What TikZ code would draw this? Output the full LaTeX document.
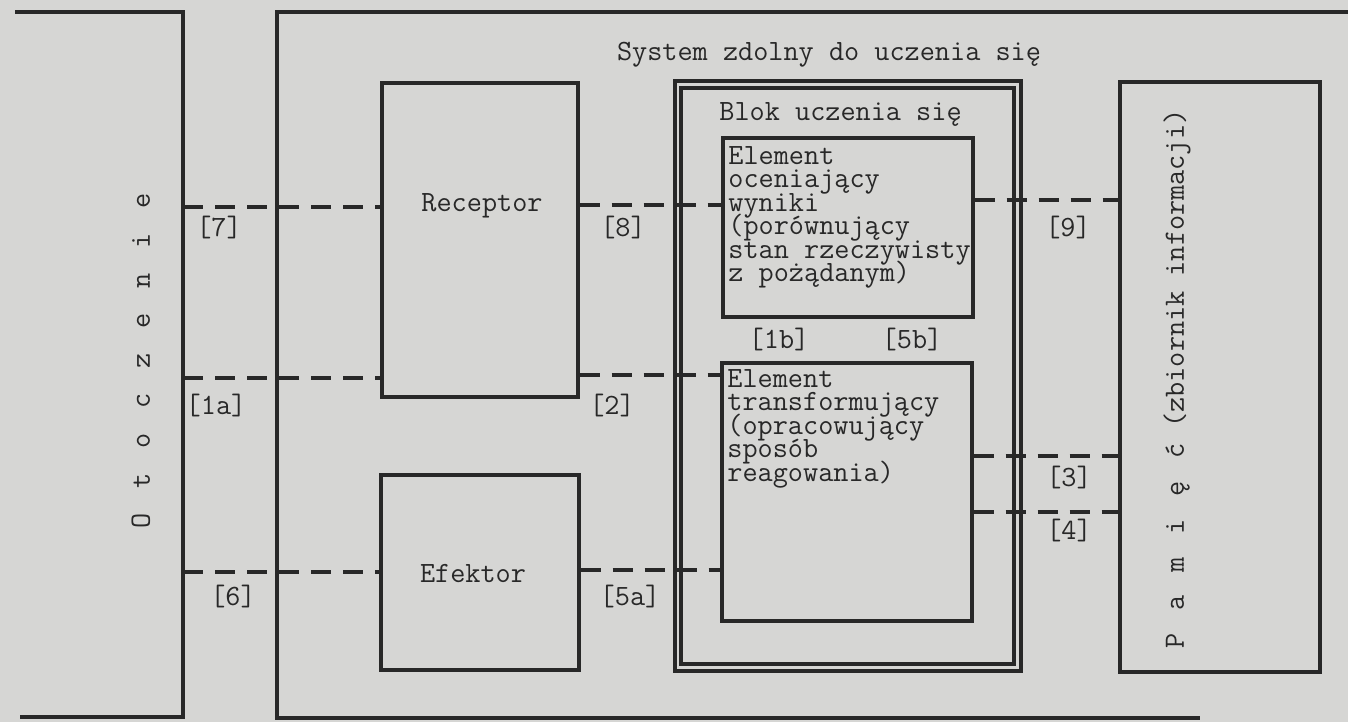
\documentclass[tikz,border=0pt]{standalone}
\usepackage{fontspec}
\usetikzlibrary{calc}
\definecolor{paper}{RGB}{214,214,212}
\definecolor{ink}{RGB}{40,40,40}
\newcommand\ltrbox[2]{\makebox[#1]{#2}}
\newcommand\twfont{\ttfamily\fontsize{14.7}{11.75}\selectfont\addfontfeature{FakeBold=1.5}}
\begin{document}
\lineskiplimit=-20pt
\lineskip=0pt
\begin{tikzpicture}[x=0.5pt,y=-0.5pt,
  frame/.style={draw=ink, line width=1.6pt},
  box/.style={draw=ink, line width=1.6pt, inner sep=0pt, rectangle},
  txt/.style={font=\twfont, text=ink, inner sep=0pt},
  conn/.style={draw=ink, line width=1.6pt, dash pattern=on 10pt off 6pt},
  lbl/.style={txt}]
\fill[paper] (0,0) rectangle (1348,722);
\useasboundingbox (0,0) rectangle (1348,722);

% Otoczenie (open on the left)
\draw[frame] (15,12) -- (183,12) -- (183,717) -- (20,717);
\coordinate (otoR) at (183,0);
\node[txt, rotate=90] (oto) at (141,361) {\ltrbox{20pt}{O}\ltrbox{20pt}{t}\ltrbox{20pt}{o}\ltrbox{20pt}{c}\ltrbox{20pt}{z}\ltrbox{20pt}{e}\ltrbox{20pt}{n}\ltrbox{20pt}{i}\ltrbox{20pt}{e}};

% System zdolny do uczenia sie
\draw[frame] (1348,12) -- (277,12) -- (277,718) -- (1200,718);
\node[txt] (systitle) at (829,55) {System zdolny do uczenia się};

% Receptor, Efektor
\node[box, minimum width=98pt, minimum height=157pt] (receptor) at (480,240) {};
\node[txt] (receptortxt) at (482,206) {Receptor};
\node[box, minimum width=99pt, minimum height=97.5pt] (efektor) at (480,572.5) {};
\node[txt] (efektortxt) at (473,574) {Efektor};

% Blok uczenia sie (double frame)
\node[box, minimum width=173pt, minimum height=295pt] (blok) at (848,376) {};
\node[box, minimum width=166.5pt, minimum height=288pt] (blokin) at (847.5,376) {};
\node[txt, anchor=west] (bloktxt) at (719,115) {Blok uczenia się};

\node[box, minimum width=125pt, minimum height=89.5pt] (eval) at (848,227.5) {};
\node[txt, anchor=north west, align=left] (evaltxt) at (728,146)
  {Element\\oceniający\\wyniki\\(porównujący\\stan rzeczywisty\\z pożądanym)};
\node[box, minimum width=125pt, minimum height=129pt] (trans) at (847,492) {};
\node[txt, anchor=north west, align=left] (transtxt) at (727,369)
  {Element\\transformujący\\(opracowujący\\sposób\\reagowania)};
\node[lbl] (l1b) at (779,340) {[1b]};
\node[lbl] (l5b) at (912,340) {[5b]};

% Pamiec
\node[box, minimum width=100pt, minimum height=295pt] (pam) at (1220,377) {};
\node[txt, rotate=90, anchor=west] (pamtxt) at (1177,660)
  {\ltrbox{19pt}{P}\ltrbox{19pt}{a}\ltrbox{19pt}{m}\ltrbox{19pt}{i}\ltrbox{19pt}{ę}\ltrbox{19pt}{ć}\hspace{2pt}(zbiornik informacji)};

% connectors
\coordinate (y7) at (0,207);
\coordinate (y8) at (0,205);
\coordinate (y9) at (0,200);
\coordinate (y1a) at (0,378);
\coordinate (y2) at (0,375);
\coordinate (y3) at (0,456);
\coordinate (y4) at (0,512);
\coordinate (y6) at (0,572);
\coordinate (y5a) at (0,570);

\draw[conn] (otoR |- y7) -- (receptor.west |- y7);
\draw[conn] (receptor.east |- y8) -- (eval.west |- y8);
\draw[conn] (eval.east |- y9) -- (pam.west |- y9);
\draw[conn] (otoR |- y1a) -- (receptor.west |- y1a);
\draw[conn] (receptor.east |- y2) -- (trans.west |- y2);
\draw[conn] (trans.east |- y3) -- (pam.west |- y3);
\draw[conn] (trans.east |- y4) -- (pam.west |- y4);
\draw[conn] (otoR |- y6) -- (efektor.west |- y6);
\draw[conn] (efektor.east |- y5a) -- (trans.west |- y5a);

% labels
\node[lbl] (l7) at (219,228) {[7]};
\node[lbl] (l8) at (623,228) {[8]};
\node[lbl] (l9) at (1068,228) {[9]};
\node[lbl] (l1a) at (216,406) {[1a]};
\node[lbl] (l2) at (612,406) {[2]};
\node[lbl] (l3) at (1069,478) {[3]};
\node[lbl] (l4) at (1069,531) {[4]};
\node[lbl] (l6) at (233,597) {[6]};
\node[lbl] (l5a) at (630,597) {[5a]};
\end{tikzpicture}
\end{document}
